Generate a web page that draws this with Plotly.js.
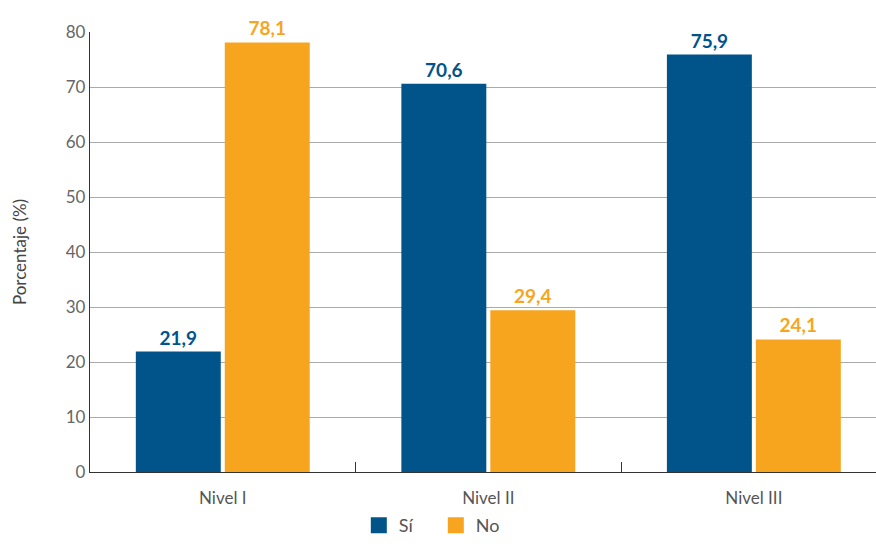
<!DOCTYPE html>
<html><head><meta charset="utf-8">
<script src="https://cdn.plot.ly/plotly-3.0.1.min.js"></script>
<style>body{margin:0;background:#fff}</style>
</head><body>
<div id="chart" style="width:876px;height:544px"></div>
<script>
const categories = ["Nivel I", "Nivel II", "Nivel III"];
const seriesNames = ["Sí", "No"];
const valuesSi = [21.9, 70.6, 75.9];
const valuesNo = [78.1, 29.4, 24.1];
const yTicks = [0, 10, 20, 30, 40, 50, 60, 70, 80];

const blue = "#01548A", orange = "#F7A51E";
const font = "Source Sans Pro, Lato, Open Sans, sans-serif";

const traces = [
  {type: "bar", name: seriesNames[0], x: categories, y: valuesSi,
   marker: {color: blue}, texttemplate: "%{y:.1f}", textposition: "outside",
   textfont: {color: blue, size: 19, family: font, weight: "bold"},
   cliponaxis: false, showlegend: false, hoverinfo: "y"},
  {type: "bar", name: seriesNames[1], x: categories, y: valuesNo,
   marker: {color: orange}, texttemplate: "%{y:.1f}", textposition: "outside",
   textfont: {color: orange, size: 19, family: font, weight: "bold"},
   cliponaxis: false, showlegend: false, hoverinfo: "y"},
  {type: "scatter", mode: "markers", name: seriesNames[0], x: [null], y: [null],
   marker: {symbol: "square", size: 16, color: blue}, showlegend: true},
  {type: "scatter", mode: "markers", name: seriesNames[1], x: [null], y: [null],
   marker: {symbol: "square", size: 16, color: orange}, showlegend: true}
];

const layout = {
  width: 876, height: 544,
  margin: {l: 90, r: 0, t: 32, b: 72, autoexpand: false},
  paper_bgcolor: "#fff", plot_bgcolor: "#fff",
  separators: ",.",
  barmode: "group", bargap: 0.33, bargroupgap: 0.045,
  font: {family: font, color: "#666", size: 17},
  xaxis: {
    type: "category", range: [-0.5, 2.46],
    showline: true, linecolor: "#333", linewidth: 1.2,
    ticks: "inside", tickson: "boundaries", ticklen: 10, tickcolor: "#333",
    showgrid: false, tickfont: {size: 17, color: "#555"}, ticklabelstandoff: 10,
    fixedrange: true
  },
  yaxis: {
    range: [0, 80], tickvals: yTicks, ticktext: yTicks.map(String),
    showline: true, linecolor: "#333", linewidth: 1.2,
    showgrid: true, gridcolor: "#aaa", gridwidth: 1, zeroline: false,
    ticks: "", ticklen: 0, tickfont: {size: 17, color: "#666"},
    title: {text: "Porcentaje (%)", font: {size: 17, color: "#444"}, standoff: 34},
    fixedrange: true
  },
  legend: {orientation: "h", x: 0.342, xanchor: "left",
    yref: "container", y: -0.01, yanchor: "bottom",
    entrywidth: 32, entrywidthmode: "pixels",
    font: {size: 18, color: "#555"}, itemwidth: 30, tracegroupgap: 0},
  showlegend: true
};

Plotly.newPlot("chart", traces, layout, {displayModeBar: false, staticPlot: true});
</script>
</body></html>
